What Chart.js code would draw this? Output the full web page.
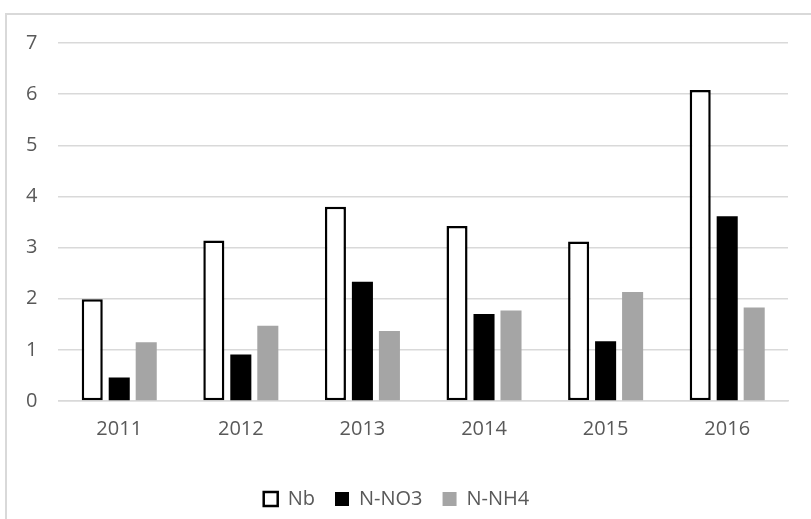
<!DOCTYPE html>
<html>
<head>
<meta charset="utf-8">
<script src="https://cdn.jsdelivr.net/npm/chart.js@4"></script>
<style>
  html, body { margin: 0; padding: 0; background: #fff; overflow: hidden; }
  #wrap { position: relative; width: 811px; height: 519px; overflow: hidden; }
  #frame { position: absolute; left: 5px; top: 13px; width: 900px; height: 600px; border: 2px solid #d9d9d9; box-sizing: border-box; }
  #c { position: absolute; left: 0; top: 0; }
</style>
</head>
<body>
<div id="wrap">
  <div id="frame"></div>
  <canvas id="c" width="811" height="519"></canvas>
</div>
<script>
const years = ["2011", "2012", "2013", "2014", "2015", "2016"];
const nb    = [1.99, 3.14, 3.80, 3.42, 3.12, 6.08];
const nno3  = [0.46, 0.91, 2.33, 1.70, 1.17, 3.61];
const nnh4  = [1.15, 1.47, 1.37, 1.77, 2.13, 1.83];
const yTicks = [0, 1, 2, 3, 4, 5, 6, 7];

const textColor = "#595959";
const fontFamily = "'Open Sans', 'Liberation Sans', sans-serif";

new Chart(document.getElementById("c"), {
  type: "bar",
  data: {
    labels: years,
    datasets: [
      { label: "Nb", data: nb, backgroundColor: "#ffffff", borderColor: "#000000", borderWidth: 2.5, borderSkipped: false },
      { label: "N-NO3", data: nno3, backgroundColor: "#000000", borderWidth: 0 },
      { label: "N-NH4", data: nnh4, backgroundColor: "#a5a5a5", borderWidth: 0 }
    ]
  },
  options: {
    responsive: false,
    animation: false,
    devicePixelRatio: 1,
    layout: { padding: { top: 43, left: 5, right: 23, bottom: 0 } },
    datasets: { bar: { categoryPercentage: 0.666, barPercentage: 0.78 } },
    plugins: {
      tooltip: { enabled: false },
      legend: {
        position: "bottom",
        labels: {
          color: textColor,
          font: { family: fontFamily, size: 20 },
          boxWidth: 14,
          boxHeight: 14,
          padding: 20
        }
      }
    },
    scales: {
      x: {
        grid: { display: false, drawTicks: false },
        border: { display: true, color: "#d9d9d9", width: 1.5 },
        ticks: { color: textColor, font: { family: fontFamily, size: 20 }, padding: 16 },
        afterFit: (s) => { s.height = 68; }
      },
      y: {
        min: 0,
        max: 7,
        afterBuildTicks: (s) => { s.ticks = yTicks.map(v => ({ value: v })); },
        grid: { color: "#d9d9d9", lineWidth: 1.5, drawTicks: false },
        border: { display: false },
        ticks: { color: textColor, font: { family: fontFamily, size: 20 }, padding: 21 }
      }
    }
  }
});
</script>
</body>
</html>
